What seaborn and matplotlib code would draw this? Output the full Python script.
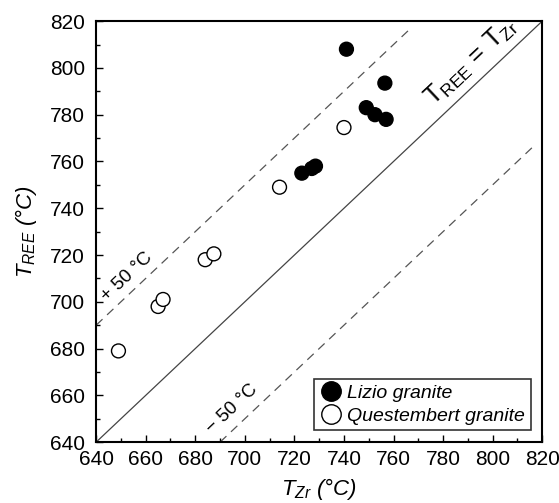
import numpy as np
import pandas as pd
import seaborn as sns
import matplotlib.pyplot as plt
from matplotlib.ticker import MultipleLocator

# values
lizio_tzr = [741, 756.5, 749, 752.5, 757, 723, 727, 728.5]
lizio_tree = [808, 793.5, 783, 780, 778, 755, 757, 758]
quest_tzr = [740, 714, 684, 687.5, 665, 667, 649]
quest_tree = [774.5, 749, 718, 720.5, 698, 701, 679]
groups = ['Lizio granite', 'Questembert granite']
offset = 50

df = pd.DataFrame({
    'Tzr': lizio_tzr + quest_tzr,
    'Tree': lizio_tree + quest_tree,
    'group': [groups[0]] * len(lizio_tzr) + [groups[1]] * len(quest_tzr),
})

sns.set_style('ticks')
plt.rcParams['font.family'] = ['Liberation Sans', 'DejaVu Sans']
plt.rcParams['mathtext.fontset'] = 'custom'
plt.rcParams['mathtext.rm'] = 'Liberation Sans'
plt.rcParams['mathtext.it'] = 'Liberation Sans:italic'
for k in ['text.color', 'axes.labelcolor', 'xtick.color', 'ytick.color', 'axes.edgecolor']:
    plt.rcParams[k] = 'black'

fig = plt.figure(figsize=(5.59, 5.03), dpi=100)
ax = fig.add_axes([0.172, 0.121, 0.798, 0.837])

# reference lines
ax.plot([640, 820], [640, 820], color='#444444', lw=0.9, zorder=1)
ax.plot([640, 767.5], [640 + offset, 767.5 + offset], color='#555555', lw=0.9,
        ls=(0, (7, 5)), zorder=1)
ax.plot([640 + offset, 817.5], [640, 817.5 - offset], color='#555555', lw=0.9,
        ls=(0, (7, 5)), zorder=1)

sns.scatterplot(data=df, x='Tzr', y='Tree', hue='group', hue_order=groups,
                palette={groups[0]: 'black', groups[1]: 'white'},
                edgecolor='black', linewidth=1.0, s=100, ax=ax, zorder=3)

ax.text(652.5, 710.5, '+ 50 °C', fontsize=13.5, rotation=45, transform_rotates_text=True,
        ha='center', va='center', rotation_mode='anchor')
ax.text(695, 654, '− 50 °C', fontsize=13.5, rotation=45, transform_rotates_text=True,
        ha='center', va='center', rotation_mode='anchor')
ax.text(791.5, 802.5, r'$\mathrm{T}_{\mathrm{REE}}\,=\,\mathrm{T}_{\mathrm{Zr}}$', fontsize=18,
        rotation=45, transform_rotates_text=True,
        ha='center', va='center', rotation_mode='anchor')

ax.set_xlim(640, 820)
ax.set_ylim(640, 820)
ax.xaxis.set_major_locator(MultipleLocator(20))
ax.yaxis.set_major_locator(MultipleLocator(20))
ax.xaxis.set_minor_locator(MultipleLocator(10))
ax.yaxis.set_minor_locator(MultipleLocator(10))
ax.tick_params(which='major', direction='in', length=5, width=1, labelsize=15)
ax.tick_params(axis='x', which='major', pad=6)
ax.tick_params(axis='y', which='major', pad=8)
ax.tick_params(which='minor', direction='in', length=3, width=1)
for sp in ax.spines.values():
    sp.set_linewidth(1.5)

ax.set_xlabel(r'$T_{Zr}$' + ' (°C)', fontsize=16, fontstyle='italic', labelpad=5)
ax.set_ylabel(r'$T_{REE}$' + ' (°C)', fontsize=16, fontstyle='italic', labelpad=8)

handles, labels = ax.get_legend_handles_labels()
leg = ax.legend(handles, labels, loc='lower right', fontsize=14, frameon=True,
                fancybox=False, edgecolor='black', markerscale=1.4,
                handletextpad=0.2, borderpad=0.3, labelspacing=0.25,
                handlelength=1.2, borderaxespad=0.6, title=None)
leg.get_frame().set_linewidth(1.2)
for t in leg.get_texts():
    t.set_fontstyle('italic')

fig.savefig('out.png', dpi=100)
